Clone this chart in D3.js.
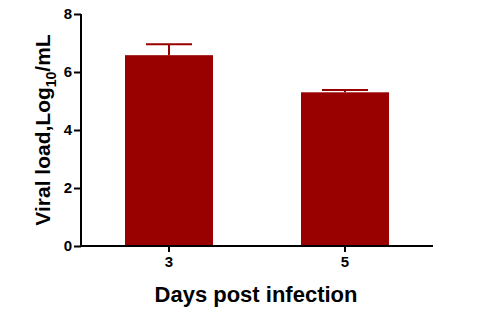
<!DOCTYPE html>
<html><head><meta charset="utf-8">
<script src="https://cdn.jsdelivr.net/npm/d3@7"></script>
<style>body{margin:0;background:#fff}svg{display:block}text{font-family:"Liberation Sans",Arial,sans-serif;font-weight:bold}</style>
</head><body><svg id="c" width="479" height="311"></svg>
<script>
const categories = ["3", "5"];
const means = [6.58, 5.30];
const errors = [0.38, 0.08];
const yTicks = [0, 2, 4, 6, 8];

const svg = d3.select("#c");
const x = d3.scaleBand().domain(categories).range([81, 433]).paddingInner(0.5).paddingOuter(0.25);
const y = d3.scaleLinear().domain([0, 8]).range([246, 14]);
const color = "#990000";

const data = categories.map((c, i) => ({c, m: means[i], e: errors[i]}));

const eg = svg.append("g").attr("stroke", color).attr("stroke-width", 2);
data.forEach(d => {
  const cx = x(d.c) + x.bandwidth() / 2;
  eg.append("line").attr("x1", cx).attr("x2", cx).attr("y1", y(d.m)).attr("y2", y(d.m + d.e));
  eg.append("line").attr("x1", cx - 23).attr("x2", cx + 23).attr("y1", y(d.m + d.e)).attr("y2", y(d.m + d.e));
});

svg.append("g").selectAll("rect").data(data).join("rect")
  .attr("x", d => x(d.c)).attr("width", x.bandwidth())
  .attr("y", d => y(d.m)).attr("height", d => y(0) - y(d.m))
  .attr("fill", color);

const ya = svg.append("g").attr("transform", "translate(81,0)")
  .call(d3.axisLeft(y).tickValues(yTicks).tickSize(7).tickPadding(2));
const xa = svg.append("g").attr("transform", "translate(0,246)")
  .call(d3.axisBottom(x).tickSize(6).tickPadding(4).tickSizeOuter(0));
[ya, xa].forEach(a => {
  a.attr("font-size", 15).attr("font-family", null);
  a.selectAll("path,line").attr("stroke", "#000").attr("stroke-width", 2);
  a.selectAll("text").attr("fill", "#000");
});
xa.select("path").attr("d", "M81,0H433");
ya.select("path").attr("d", "M0,14V246");

const yt = svg.append("text").attr("transform", "translate(50,130) rotate(-90)")
  .attr("text-anchor", "middle").style("font-size", "21px").attr("fill", "#000");
yt.append("tspan").text("Viral load,Log");
yt.append("tspan").text("10").style("font-size", "14px").attr("dy", 6);
yt.append("tspan").text("/mL").attr("dy", -6);

svg.append("text").attr("x", 256).attr("y", 302).attr("text-anchor", "middle")
  .style("font-size", "22px").attr("fill", "#000").text("Days post infection");
</script></body></html>
